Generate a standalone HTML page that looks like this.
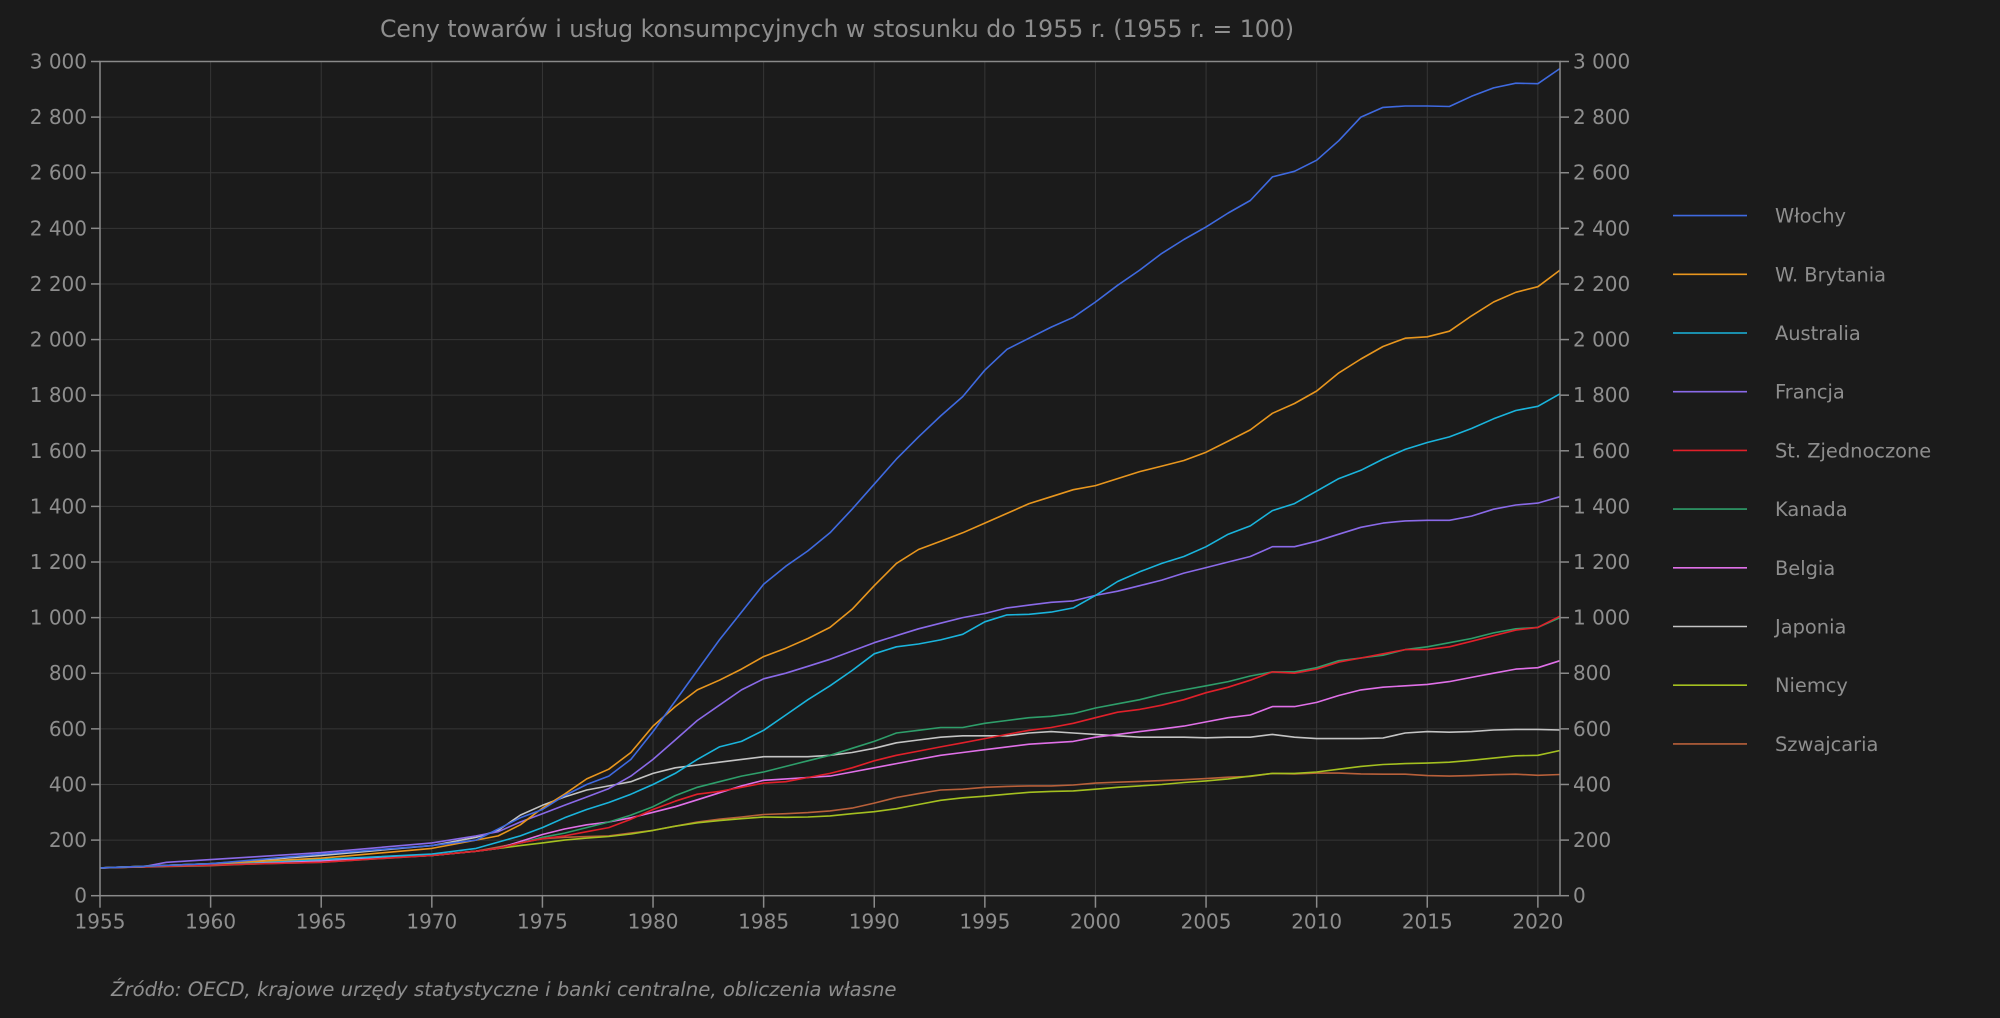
<!DOCTYPE html>
<html><head><meta charset="utf-8"><style>
html,body{margin:0;padding:0;background:#1b1b1b;}
svg{display:block}
text{font-family:"DejaVu Sans","Liberation Sans",sans-serif;fill:#8e8e8e;}
</style></head><body>
<svg id="s" width="2000" height="1018" viewBox="0 0 2000 1018" xmlns="http://www.w3.org/2000/svg">
<rect width="2000" height="1018" fill="#1b1b1b"/>
<g id="grid"></g><g id="lines"></g><g id="axes"></g><g id="leg"></g>
<text x="837" y="37" font-size="23.6" text-anchor="middle">Ceny towarów i usług konsumpcyjnych w stosunku do 1955 r. (1955 r. = 100)</text>
<text x="111" y="996" font-size="19.7" font-style="italic">Źródło: OECD, krajowe urzędy statystyczne i banki centralne, obliczenia własne</text>
</svg>
<script>
var NS="http://www.w3.org/2000/svg";
var L=100,R=1560,T=61.5,B=895.7;
function X(y){return L+(y-1955)*(R-L)/66;}
function Y(v){return B-v*(B-T)/3000;}
function el(p,t,a,txt){var e=document.createElementNS(NS,t);for(var k in a)e.setAttribute(k,a[k]);if(txt!=null)e.textContent=txt;document.getElementById(p).appendChild(e);}
for(var v=200;v<=2800;v+=200)el("grid","line",{x1:L,x2:R,y1:Y(v),y2:Y(v),stroke:"#363636","stroke-width":1});
for(var y=1960;y<=2020;y+=5)el("grid","line",{x1:X(y),x2:X(y),y1:T,y2:B,stroke:"#363636","stroke-width":1});
el("axes","rect",{x:L,y:T,width:R-L,height:B-T,fill:"none",stroke:"#8a8a8a","stroke-width":1.5});
for(var v=0;v<=3000;v+=200){var s=v>=1000?(Math.floor(v/1000)+" "+String(v%1000).padStart(3,"0")):String(v);
 el("axes","line",{x1:L-9,x2:L,y1:Y(v),y2:Y(v),stroke:"#8a8a8a","stroke-width":1.5});
 el("axes","line",{x1:R,x2:R+9,y1:Y(v),y2:Y(v),stroke:"#8a8a8a","stroke-width":1.5});
 el("axes","text",{x:L-13,y:Y(v)+7,"font-size":20,"text-anchor":"end"},s);
 el("axes","text",{x:R+13,y:Y(v)+7,"font-size":20},s);}
for(var y=1955;y<=2020;y+=5){el("axes","line",{x1:X(y),x2:X(y),y1:B,y2:B+12,stroke:"#8a8a8a","stroke-width":1.5});
 el("axes","text",{x:X(y),y:B+33,"font-size":20,"text-anchor":"middle"},String(y));}
var S=[
["Włochy","#3f6ae0",{1955:100,1960:115,1965:150,1970:180,1972:200,1974:280,1975:310,1976:360,1977:400,1978:430,1979:490,1980:590,1981:700,1982:810,1983:920,1984:1020,1985:1120,1986:1185,1987:1240,1988:1305,1989:1390,1990:1480,1991:1570,1992:1650,1993:1725,1994:1795,1995:1890,1996:1965,1997:2005,1998:2045,1999:2080,2000:2135,2001:2195,2002:2250,2003:2310,2004:2360,2005:2405,2006:2455,2007:2500,2008:2585,2009:2605,2010:2645,2011:2715,2012:2800,2013:2835,2014:2840,2015:2840,2016:2838,2017:2875,2018:2905,2019:2922,2020:2920,2021:2975}],
["W. Brytania","#e8961e",{1955:100,1960:115,1965:135,1970:170,1972:200,1973:215,1974:255,1975:315,1976:365,1977:420,1978:455,1979:515,1980:610,1981:680,1982:740,1983:775,1984:815,1985:860,1986:890,1987:925,1988:965,1989:1030,1990:1115,1991:1195,1992:1245,1993:1275,1994:1305,1995:1340,1996:1375,1997:1410,1998:1435,1999:1460,2000:1475,2001:1500,2002:1525,2003:1545,2004:1565,2005:1595,2006:1635,2007:1675,2008:1735,2009:1770,2010:1815,2011:1880,2012:1930,2013:1975,2014:2005,2015:2010,2016:2030,2017:2085,2018:2135,2019:2170,2020:2190,2021:2250}],
["Australia","#1ab4dc",{1955:100,1960:115,1965:130,1970:150,1972:170,1974:215,1975:245,1976:280,1977:310,1978:335,1979:365,1980:400,1981:440,1982:490,1983:535,1984:555,1985:595,1986:650,1987:705,1988:755,1989:810,1990:870,1991:895,1992:905,1993:920,1994:940,1995:985,1996:1010,1997:1012,1998:1020,1999:1035,2000:1080,2001:1130,2002:1165,2003:1195,2004:1220,2005:1255,2006:1300,2007:1330,2008:1385,2009:1410,2010:1455,2011:1500,2012:1530,2013:1570,2014:1605,2015:1630,2016:1650,2017:1680,2018:1715,2019:1745,2020:1760,2021:1805}],
["Francja","#8a6ae8",{1955:100,1957:105,1958:120,1960:130,1962:140,1965:155,1970:190,1972:215,1973:230,1974:265,1975:295,1976:325,1977:355,1978:385,1979:430,1980:490,1981:560,1982:630,1983:685,1984:740,1985:780,1986:800,1987:825,1988:850,1989:880,1990:910,1991:935,1992:960,1993:980,1994:1000,1995:1015,1996:1035,1997:1045,1998:1055,1999:1060,2000:1080,2001:1095,2002:1115,2003:1135,2004:1160,2005:1180,2006:1200,2007:1220,2008:1255,2009:1255,2010:1275,2011:1300,2012:1325,2013:1340,2014:1348,2015:1350,2016:1350,2017:1365,2018:1390,2019:1405,2020:1412,2021:1435}],
["St. Zjednoczone","#e0202a",{1955:100,1960:110,1965:120,1970:145,1972:160,1973:170,1974:190,1975:205,1976:215,1977:230,1978:245,1979:275,1980:310,1981:340,1982:365,1983:375,1984:390,1985:405,1986:410,1987:425,1988:440,1989:460,1990:485,1991:505,1992:520,1993:535,1994:550,1995:565,1996:580,1997:595,1998:605,1999:620,2000:640,2001:660,2002:670,2003:685,2004:705,2005:730,2006:750,2007:775,2008:805,2009:800,2010:815,2011:840,2012:855,2013:870,2014:885,2015:885,2016:895,2017:915,2018:935,2019:955,2020:965,2021:1005}],
["Kanada","#2e9e6a",{1955:100,1960:110,1965:120,1970:145,1972:160,1973:170,1974:190,1975:210,1976:225,1977:245,1978:265,1979:290,1980:320,1981:360,1982:390,1983:410,1984:430,1985:445,1986:465,1987:485,1988:505,1989:530,1990:555,1991:585,1992:595,1993:605,1994:605,1995:620,1996:630,1997:640,1998:645,1999:655,2000:675,2001:690,2002:705,2003:725,2004:740,2005:755,2006:770,2007:790,2008:805,2009:805,2010:820,2011:845,2012:855,2013:865,2014:885,2015:895,2016:910,2017:925,2018:945,2019:960,2020:965,2021:1000}],
["Belgia","#e070e8",{1955:100,1960:110,1965:125,1970:145,1972:160,1973:170,1974:195,1975:220,1976:240,1977:255,1978:265,1979:280,1980:300,1981:320,1982:345,1983:370,1984:395,1985:415,1986:420,1987:425,1988:430,1989:445,1990:460,1991:475,1992:490,1993:505,1994:515,1995:525,1996:535,1997:545,1998:550,1999:555,2000:570,2001:580,2002:590,2003:600,2004:610,2005:625,2006:640,2007:650,2008:680,2009:680,2010:695,2011:720,2012:740,2013:750,2014:755,2015:760,2016:770,2017:785,2018:800,2019:815,2020:820,2021:845}],
["Japonia","#c4c4c4",{1955:100,1960:115,1965:145,1970:180,1972:210,1973:235,1974:290,1975:325,1976:355,1977:380,1978:395,1979:410,1980:440,1981:460,1982:470,1983:480,1984:490,1985:500,1986:500,1987:500,1988:505,1989:515,1990:530,1991:550,1992:560,1993:570,1994:575,1995:575,1996:575,1997:585,1998:590,1999:585,2000:580,2001:575,2002:570,2003:570,2004:570,2005:568,2006:570,2007:570,2008:580,2009:570,2010:565,2011:565,2012:565,2013:567,2014:585,2015:590,2016:588,2017:590,2018:596,2019:598,2020:598,2021:596}],
["Niemcy","#a4c020",{1955:100,1960:110,1965:125,1970:145,1972:160,1973:170,1974:180,1975:190,1976:200,1977:207,1978:213,1979:222,1980:235,1981:250,1982:262,1983:270,1984:277,1985:283,1986:282,1987:283,1988:287,1989:295,1990:302,1991:313,1992:328,1993:343,1994:352,1995:358,1996:365,1997:372,1998:375,1999:377,2000:383,2001:390,2002:395,2003:400,2004:407,2005:413,2006:420,2007:430,2008:440,2009:440,2010:445,2011:455,2012:465,2013:472,2014:475,2015:477,2016:480,2017:487,2018:495,2019:503,2020:505,2021:522}],
["Szwajcaria","#b8603a",{1955:100,1960:108,1965:125,1970:145,1972:160,1973:175,1974:190,1975:205,1976:210,1977:213,1978:215,1979:225,1980:235,1981:250,1982:265,1983:275,1984:283,1985:292,1986:295,1987:299,1988:305,1989:315,1990:333,1991:353,1992:367,1993:380,1994:383,1995:390,1996:393,1997:395,1998:395,1999:398,2000:405,2001:408,2002:411,2003:414,2004:417,2005:421,2006:426,2007:429,2008:440,2009:438,2010:441,2011:441,2012:438,2013:437,2014:437,2015:432,2016:430,2017:432,2018:435,2019:437,2020:433,2021:436}]
];
for(var i=S.length-1;i>=0;i--){var d=S[i][2],ks=Object.keys(d).map(Number).sort(function(a,b){return a-b}),p=[];
 ks.forEach(function(k){p.push(X(k).toFixed(1)+","+Y(d[k]).toFixed(1));});
 el("lines","polyline",{points:p.join(" "),fill:"none",stroke:S[i][1],"stroke-width":1.6,"stroke-linejoin":"round"});}
S.forEach(function(s,i){var y=215.6+i*58.7;
 el("leg","line",{x1:1673,x2:1747,y1:y,y2:y,stroke:s[1],"stroke-width":1.6});
 el("leg","text",{x:1775,y:y+7,"font-size":19.4},s[0]);});
</script>
</body></html>
